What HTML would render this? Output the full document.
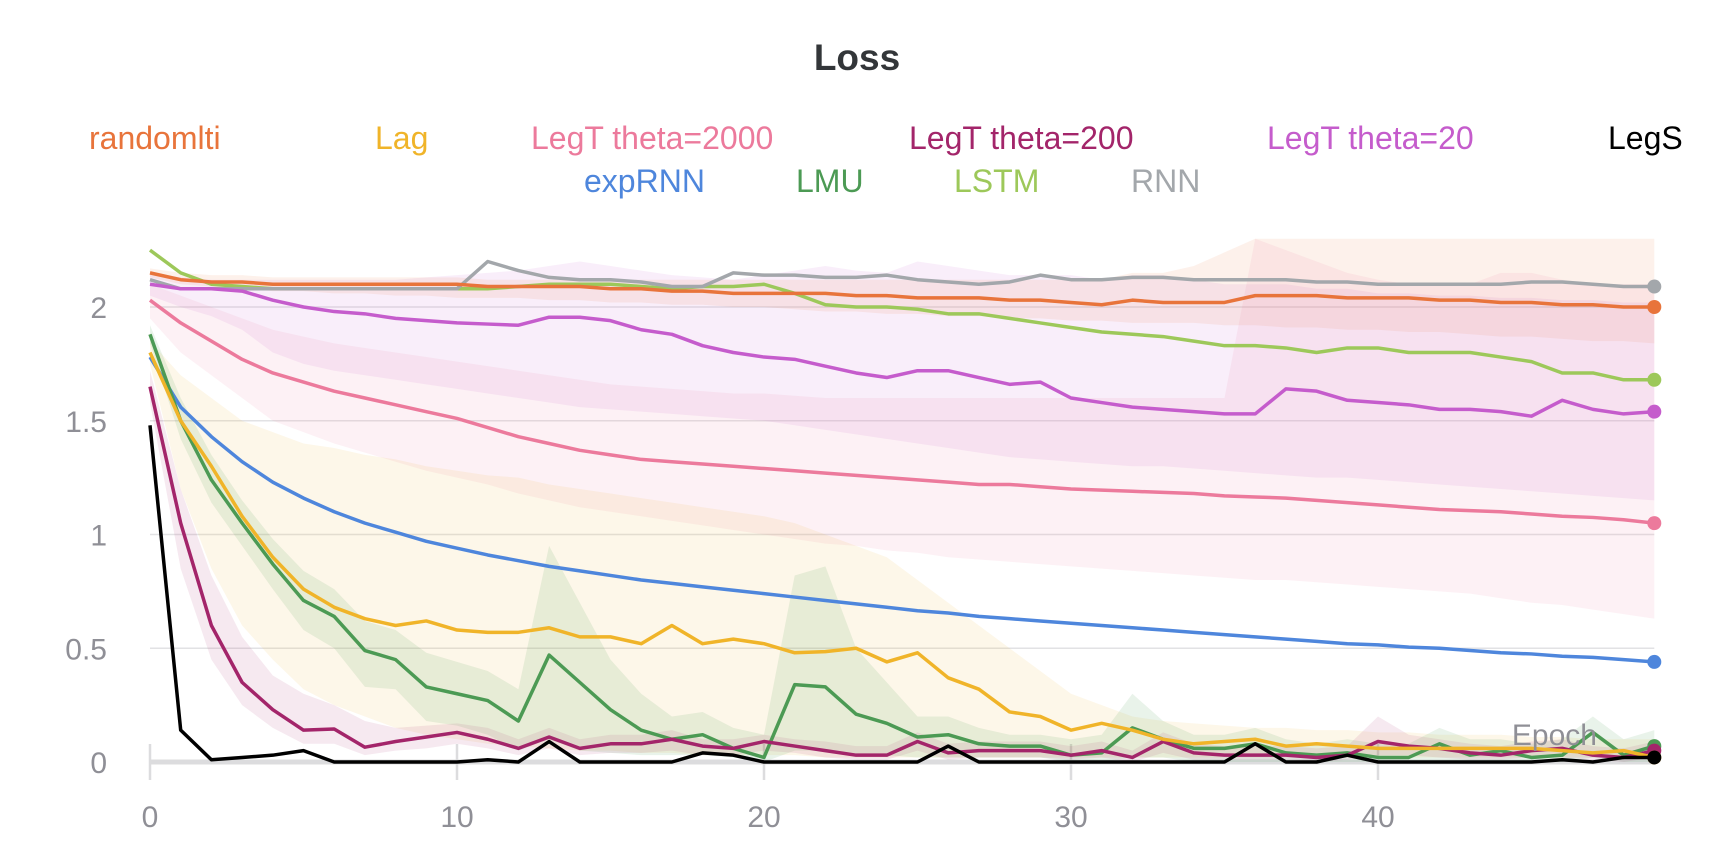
<!DOCTYPE html>
<html><head><meta charset="utf-8"><style>
html,body{margin:0;padding:0;background:#fff;width:1713px;height:864px;overflow:hidden}
svg{display:block;font-family:"Liberation Sans",sans-serif}
</style></head><body>
<svg id="chart" width="1713" height="864" viewBox="0 0 1713 864">
<text x="857" y="70" text-anchor="middle" font-size="37" font-weight="bold" fill="#333639">Loss</text>
<g id="legend" font-size="32"></g>
<g id="grid"></g>
<g id="bands"></g>
<g id="lines"></g>
<g id="axes"></g>
<text x="1597" y="745" text-anchor="end" font-size="30" fill="#8f8f96">Epoch</text>
</svg>
<script>
const yTicks=[0,0.5,1,1.5,2];
const xTicks=[0,10,20,30,40];
const seriesNames=["randomlti","Lag","LegT theta=2000","LegT theta=200","LegT theta=20","LegS","expRNN","LMU","LSTM","RNN"];
const randomlti=[2.15,2.12,2.11,2.11,2.1,2.1,2.1,2.1,2.1,2.1,2.1,2.09,2.09,2.09,2.09,2.08,2.08,2.07,2.07,2.06,2.06,2.06,2.06,2.05,2.05,2.04,2.04,2.04,2.03,2.03,2.02,2.01,2.03,2.02,2.02,2.02,2.05,2.05,2.05,2.04,2.04,2.04,2.03,2.03,2.02,2.02,2.01,2.01,2.0,2.0];
const lag=[1.8,1.5,1.3,1.08,0.9,0.76,0.68,0.63,0.6,0.62,0.58,0.57,0.57,0.59,0.55,0.55,0.52,0.6,0.52,0.54,0.52,0.48,0.485,0.5,0.44,0.48,0.37,0.32,0.22,0.2,0.14,0.17,0.14,0.1,0.08,0.09,0.1,0.07,0.08,0.07,0.06,0.06,0.06,0.06,0.06,0.06,0.05,0.04,0.05,0.02];
const legt2000=[2.03,1.93,1.85,1.77,1.71,1.67,1.63,1.6,1.57,1.54,1.51,1.47,1.43,1.4,1.37,1.35,1.33,1.32,1.31,1.3,1.29,1.28,1.27,1.26,1.25,1.24,1.23,1.22,1.22,1.21,1.2,1.195,1.19,1.185,1.18,1.17,1.165,1.16,1.15,1.14,1.13,1.12,1.11,1.105,1.1,1.09,1.08,1.075,1.065,1.05];
const legt200=[1.65,1.05,0.6,0.35,0.23,0.14,0.145,0.065,0.09,0.11,0.13,0.1,0.06,0.11,0.06,0.08,0.08,0.1,0.07,0.06,0.09,0.07,0.05,0.03,0.03,0.09,0.04,0.05,0.05,0.05,0.03,0.05,0.02,0.09,0.04,0.03,0.03,0.03,0.02,0.03,0.09,0.07,0.06,0.04,0.03,0.05,0.06,0.03,0.02,0.05];
const legt20=[2.1,2.08,2.08,2.07,2.03,2.0,1.98,1.97,1.95,1.94,1.93,1.925,1.92,1.955,1.955,1.94,1.9,1.88,1.83,1.8,1.78,1.77,1.74,1.71,1.69,1.72,1.72,1.69,1.66,1.67,1.6,1.58,1.56,1.55,1.54,1.53,1.53,1.64,1.63,1.59,1.58,1.57,1.55,1.55,1.54,1.52,1.59,1.55,1.53,1.54];
const legs=[1.48,0.14,0.01,0.02,0.03,0.05,0.0,0,0,0,0,0.01,0,0.09,0,0,0,0,0.04,0.03,0,0,0,0,0,0,0.07,0,0,0,0,0,0,0,0,0,0.08,0,0,0.03,0,0,0,0,0,0,0.01,0,0.02,0.02];
const exprnn=[1.78,1.56,1.43,1.32,1.23,1.16,1.1,1.05,1.01,0.97,0.94,0.91,0.885,0.86,0.84,0.82,0.8,0.785,0.77,0.755,0.74,0.725,0.71,0.695,0.68,0.665,0.655,0.64,0.63,0.62,0.61,0.6,0.59,0.58,0.57,0.56,0.55,0.54,0.53,0.52,0.515,0.505,0.5,0.49,0.48,0.475,0.465,0.46,0.45,0.44];
const lmu=[1.88,1.5,1.24,1.05,0.87,0.71,0.64,0.49,0.45,0.33,0.3,0.27,0.18,0.47,0.35,0.23,0.14,0.1,0.12,0.06,0.02,0.34,0.33,0.21,0.17,0.11,0.12,0.08,0.07,0.07,0.03,0.04,0.15,0.1,0.06,0.06,0.08,0.04,0.03,0.04,0.02,0.02,0.08,0.03,0.05,0.02,0.03,0.13,0.03,0.07];
const lstm=[2.25,2.15,2.1,2.09,2.08,2.08,2.08,2.08,2.08,2.08,2.08,2.08,2.09,2.1,2.1,2.1,2.09,2.08,2.09,2.09,2.1,2.06,2.01,2.0,2.0,1.99,1.97,1.97,1.95,1.93,1.91,1.89,1.88,1.87,1.85,1.83,1.83,1.82,1.8,1.82,1.82,1.8,1.8,1.8,1.78,1.76,1.71,1.71,1.68,1.68];
const rnn=[2.12,2.08,2.08,2.08,2.08,2.08,2.08,2.08,2.08,2.08,2.08,2.2,2.16,2.13,2.12,2.12,2.11,2.09,2.09,2.15,2.14,2.14,2.13,2.13,2.14,2.12,2.11,2.1,2.11,2.14,2.12,2.12,2.13,2.13,2.12,2.12,2.12,2.12,2.11,2.11,2.1,2.1,2.1,2.1,2.1,2.11,2.11,2.1,2.09,2.09];
const bandLagHi=[1.85,1.7,1.6,1.5,1.45,1.4,1.38,1.35,1.33,1.3,1.28,1.26,1.25,1.22,1.2,1.18,1.16,1.14,1.12,1.1,1.08,1.05,1.0,0.95,0.9,0.8,0.7,0.6,0.5,0.4,0.3,0.25,0.2,0.18,0.17,0.16,0.15,0.15,0.14,0.14,0.13,0.13,0.12,0.12,0.12,0.11,0.11,0.1,0.1,0.1];
const bandLagLo=[1.75,1.2,0.85,0.6,0.45,0.32,0.25,0.2,0.15,0.12,0.1,0.08,0.07,0.06,0.05,0.05,0.04,0.04,0.03,0.03,0.03,0.03,0.02,0.02,0.02,0.02,0.02,0.02,0.02,0.02,0.02,0.02,0.02,0.02,0.02,0.02,0.02,0.02,0.02,0.02,0.02,0.02,0.02,0.02,0.02,0.02,0.02,0.02,0.02,0.02];
const band2000Hi=[2.1,2.05,2.0,1.95,1.9,1.87,1.84,1.82,1.8,1.78,1.76,1.74,1.72,1.7,1.68,1.66,1.65,1.64,1.63,1.62,1.62,1.61,1.6,1.6,1.6,1.6,1.6,1.6,1.6,1.6,1.6,1.6,1.6,1.6,1.6,1.6,2.3,2.25,2.2,2.15,2.12,2.1,2.1,2.1,2.15,2.15,2.12,2.1,2.1,2.1];
const band2000Lo=[1.95,1.8,1.7,1.6,1.5,1.45,1.4,1.36,1.32,1.28,1.25,1.22,1.18,1.15,1.12,1.1,1.08,1.06,1.04,1.02,1.0,0.98,0.96,0.95,0.93,0.92,0.9,0.89,0.88,0.87,0.86,0.85,0.84,0.83,0.82,0.81,0.8,0.8,0.79,0.78,0.77,0.76,0.75,0.74,0.72,0.7,0.69,0.67,0.65,0.63];
const bandRandHi=[2.17,2.15,2.14,2.14,2.13,2.13,2.13,2.13,2.13,2.13,2.13,2.12,2.12,2.12,2.12,2.12,2.12,2.12,2.12,2.12,2.12,2.12,2.12,2.12,2.12,2.12,2.12,2.12,2.12,2.12,2.12,2.12,2.15,2.15,2.18,2.24,2.3,2.3,2.3,2.3,2.3,2.3,2.3,2.3,2.3,2.3,2.3,2.3,2.3,2.3];
const bandRandLo=[2.13,2.1,2.09,2.08,2.07,2.07,2.06,2.06,2.05,2.05,2.04,2.04,2.04,2.03,2.03,2.02,2.02,2.01,2.01,2.0,2.0,1.99,1.98,1.98,1.97,1.97,1.96,1.96,1.95,1.95,1.94,1.94,1.93,1.93,1.93,1.92,1.92,1.91,1.91,1.9,1.9,1.89,1.89,1.88,1.87,1.87,1.86,1.85,1.85,1.84];
const band20Hi=[2.15,2.13,2.12,2.12,2.12,2.12,2.12,2.12,2.12,2.13,2.14,2.15,2.16,2.18,2.2,2.18,2.16,2.14,2.13,2.12,2.14,2.16,2.18,2.16,2.15,2.2,2.18,2.16,2.14,2.14,2.14,2.12,2.14,2.14,2.12,2.1,2.1,2.1,2.08,2.08,2.06,2.06,2.05,2.05,2.04,2.04,2.03,2.03,2.02,2.02];
const band20Lo=[2.05,2.0,1.96,1.9,1.8,1.75,1.72,1.7,1.68,1.66,1.64,1.62,1.6,1.58,1.56,1.55,1.54,1.53,1.52,1.51,1.5,1.48,1.46,1.44,1.42,1.4,1.38,1.36,1.34,1.33,1.32,1.31,1.3,1.3,1.29,1.28,1.27,1.26,1.25,1.25,1.24,1.23,1.22,1.21,1.2,1.19,1.18,1.17,1.16,1.15];
const bandLmuHi=[1.92,1.6,1.35,1.15,0.98,0.84,0.76,0.62,0.58,0.48,0.44,0.4,0.32,0.95,0.7,0.45,0.3,0.2,0.22,0.15,0.12,0.82,0.86,0.5,0.35,0.2,0.2,0.15,0.12,0.12,0.1,0.12,0.3,0.18,0.12,0.12,0.15,0.1,0.08,0.1,0.08,0.08,0.15,0.1,0.1,0.08,0.1,0.2,0.1,0.14];
const bandLmuLo=[1.84,1.42,1.14,0.95,0.76,0.58,0.5,0.33,0.32,0.18,0.16,0.12,0.05,0.1,0.05,0.04,0.03,0.03,0.03,0.02,0.0,0.05,0.05,0.03,0.03,0.02,0.02,0.02,0.02,0.02,0.0,0.0,0.02,0.02,0.0,0.0,0.0,0.0,0.0,0.0,0.0,0.0,0.0,0.0,0.0,0.0,0.0,0.02,0.0,0.0];
const band200Hi=[1.72,1.2,0.82,0.55,0.38,0.3,0.25,0.18,0.15,0.16,0.17,0.15,0.1,0.15,0.1,0.12,0.12,0.14,0.1,0.1,0.12,0.1,0.09,0.07,0.07,0.13,0.08,0.09,0.09,0.09,0.07,0.09,0.05,0.13,0.08,0.07,0.07,0.07,0.06,0.07,0.2,0.12,0.1,0.08,0.07,0.09,0.1,0.07,0.06,0.09];
const band200Lo=[1.58,0.85,0.45,0.25,0.15,0.08,0.08,0.03,0.05,0.06,0.08,0.06,0.03,0.06,0.03,0.04,0.04,0.05,0.03,0.03,0.05,0.04,0.02,0.01,0.01,0.05,0.01,0.02,0.02,0.02,0.01,0.02,0,0.04,0.01,0.01,0.01,0.01,0,0.01,0.03,0.03,0.02,0.01,0.01,0.02,0.02,0.01,0,0.02];

const NS='http://www.w3.org/2000/svg';
const X0=150,XS=30.7,Y0=762,YS=227.5;
function xs(i){return X0+i*XS;}
function ys(v){return Y0-v*YS;}
function mk(tag,attrs,parent){const e=document.createElementNS(NS,tag);for(const k in attrs)e.setAttribute(k,attrs[k]);parent.appendChild(e);return e;}

const legendG=document.getElementById('legend');
const legendDefs=[["randomlti","#e8743b",89,149],["Lag","#f0b429",375,149],["LegT theta=2000","#ec7a9c",531,149],["LegT theta=200","#a3256a",909,149],["LegT theta=20","#c55ccc",1267,149],["LegS","#000000",1608,149],["expRNN","#4e86dc",584,192],["LMU","#4c9a54",796,192],["LSTM","#9dc85a",954,192],["RNN","#a3a7ab",1131,192]];
legendDefs.forEach(d=>{
  const t=mk('text',{x:d[2],y:d[3],fill:d[1]},legendG);
  t.textContent=d[0];
  
  
});

const grid=document.getElementById('grid');
const axes=document.getElementById('axes');
yTicks.forEach(v=>{
  if(v>0){const l=mk('line',{x1:X0,x2:xs(49),y1:ys(v),y2:ys(v),stroke:'#e2e2e4','stroke-width':1.5},grid);
  
  }
  const t=mk('text',{x:107,y:ys(v)+11,'text-anchor':'end','font-size':30,fill:'#8f8f96'},axes);
  t.textContent=String(v);
  
  
});
const ax=mk('line',{x1:X0,x2:xs(49),y1:Y0,y2:Y0,stroke:'#dcdcde','stroke-width':5},grid);


xTicks.forEach(v=>{
  const l=mk('line',{x1:xs(v),x2:xs(v),y1:Y0-18,y2:Y0+18,stroke:'#dcdcde','stroke-width':2.5},grid);
  
  
  const t=mk('text',{x:xs(v),y:827,'text-anchor':'middle','font-size':30,fill:'#8f8f96'},axes);
  t.textContent=String(v);
  
  
});

const bandsG=document.getElementById('bands');
function band(hi,lo,color,op,name){
  let d='M'+hi.map((v,i)=>xs(i)+','+ys(v)).join('L');
  for(let i=lo.length-1;i>=0;i--)d+='L'+xs(i)+','+ys(lo[i]);
  const p=mk('path',{d:d+'Z',fill:color,'fill-opacity':op},bandsG);
  
  
}
band(band20Hi,band20Lo,'#c55ccc',0.1,'band-legt-theta20');
band(bandRandHi,bandRandLo,'#e8743b',0.1,'band-randomlti');
band(band2000Hi,band2000Lo,'#ec7a9c',0.1,'band-legt-theta2000');
band(bandLagHi,bandLagLo,'#f0b429',0.1,'band-lag');
band(bandLmuHi,bandLmuLo,'#4c9a54',0.12,'band-lmu');
band(band200Hi,band200Lo,'#a3256a',0.1,'band-legt-theta200');

const linesG=document.getElementById('lines');
function line(vals,color,name){
  const p=mk('polyline',{points:vals.map((v,i)=>xs(i)+','+ys(v)).join(' '),fill:'none',stroke:color,'stroke-width':3.5,'stroke-linejoin':'round'},linesG);
  
  
  const c=mk('circle',{cx:xs(vals.length-1),cy:ys(vals[vals.length-1]),r:7,fill:color},linesG);
  
  
}
line(lstm,'#9dc85a','line-lstm');
line(rnn,'#a3a7ab','line-rnn');
line(randomlti,'#e8743b','line-randomlti');
line(legt20,'#c55ccc','line-legt-theta20');
line(legt2000,'#ec7a9c','line-legt-theta2000');
line(exprnn,'#4e86dc','line-exprnn');
line(lmu,'#4c9a54','line-lmu');
line(legt200,'#a3256a','line-legt-theta200');
line(lag,'#f0b429','line-lag');
line(legs,'#000000','line-legs');
</script>
</body></html>
